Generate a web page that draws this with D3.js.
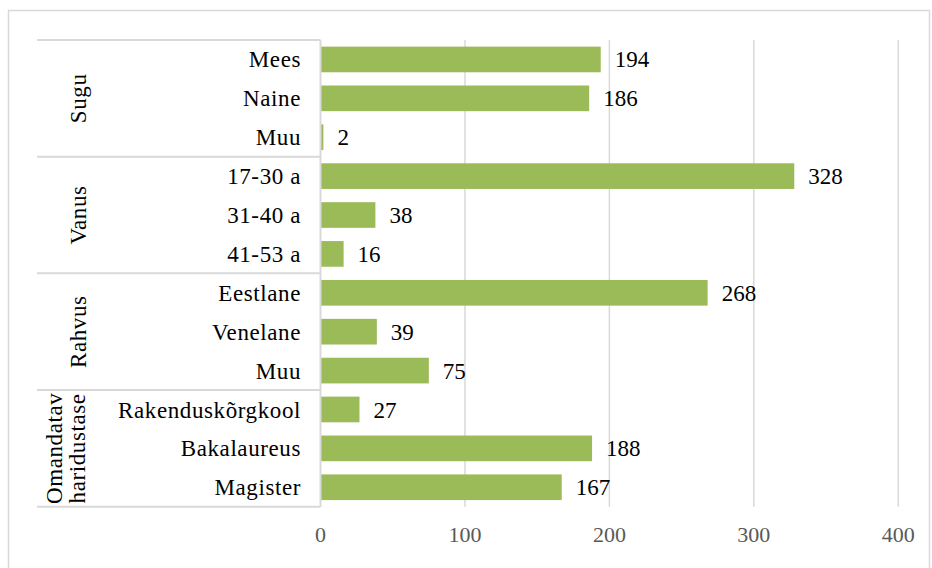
<!DOCTYPE html>
<html>
<head>
<meta charset="utf-8">
<script src="https://cdn.jsdelivr.net/npm/d3@7"></script>
<style>
  body { margin: 0; background: #fff; }
  text { font-family: "Liberation Serif", "Times New Roman", serif; }
</style>
</head>
<body>
<svg class="chart"></svg>
<script>
var width = 932;
var height = 568;

// data
var groups = ["Sugu", "Vanus", "Rahvus", "Omandatav haridustase"];
var groupSize = [3, 3, 3, 3];
var categories = ["Mees", "Naine", "Muu", "17-30 a", "31-40 a", "41-53 a",
    "Eestlane", "Venelane", "Muu", "Rakenduskõrgkool", "Bakalaureus", "Magister"];
var values = [194, 186, 2, 328, 38, 16, 268, 39, 75, 27, 188, 167];
var ticks = [0, 100, 200, 300, 400];

// note: "top" is taken by window.top, so different names here
var plotTop = 40, plotBottom = 506.7;
var boxLeft = 37, plotLeft = 320.5, plotRight = 898.3;

var svg = d3.select(".chart")
    .attr("width", width)
    .attr("height", height);

// outer frame
svg.append("rect")
    .attr("x", 8.5).attr("y", 10.5)
    .attr("width", 921).attr("height", 600)
    .attr("fill", "none")
    .attr("stroke", "#d9d9d9")
    .attr("stroke-width", 1.5);

var x = d3.scaleLinear()
    .domain([0, 400])
    .range([plotLeft, plotRight]);

var y = d3.scaleBand()
    .domain(d3.range(categories.length))
    .range([plotTop, plotBottom])
    .paddingInner(0.34)
    .paddingOuter(0.17);

var gap = (y.step() - y.bandwidth()) / 2;

// grid
svg.append("g").selectAll("line")
    .data(ticks.slice(1))
    .enter().append("line")
    .attr("x1", function(d) { return x(d); })
    .attr("x2", function(d) { return x(d); })
    .attr("y1", plotTop)
    .attr("y2", plotBottom)
    .attr("stroke", "#d9d9d9")
    .attr("stroke-width", 1.5);

// tick labels
svg.append("g").selectAll("text")
    .data(ticks)
    .enter().append("text")
    .attr("x", function(d) { return x(d); })
    .attr("y", 542)
    .attr("text-anchor", "middle")
    .attr("fill", "#595959")
    .style("font-size", "22px")
    .text(function(d) { return d; });

// bars
var bar = svg.append("g").selectAll("g")
    .data(values)
    .enter().append("g");

bar.append("rect")
    .attr("x", x(0))
    .attr("y", function(d, i) { return y(i); })
    .attr("width", function(d) { return x(d) - x(0); })
    .attr("height", y.bandwidth())
    .attr("fill", "#9bbb59");

bar.append("text")
    .attr("x", function(d) { return x(d) + 14; })
    .attr("y", function(d, i) { return y(i) + y.bandwidth() / 2; })
    .attr("dy", ".35em")
    .style("font-size", "23px")
    .text(function(d) { return d; });

// category labels
svg.append("g").selectAll("text")
    .data(categories)
    .enter().append("text")
    .attr("x", 301)
    .attr("y", function(d, i) { return y(i) + y.bandwidth() / 2; })
    .attr("dy", ".35em")
    .attr("text-anchor", "end")
    .style("font-size", "23px")
    .style("letter-spacing", "0.6px")
    .text(function(d) { return d; });

// group box lines
var bounds = [];
var start = 0;
groupSize.forEach(function(n) {
    bounds.push(y(start) - gap);
    start += n;
});
bounds.push(y(start - 1) + y.bandwidth() + gap);

svg.append("g").selectAll("line")
    .data(bounds)
    .enter().append("line")
    .attr("x1", boxLeft)
    .attr("x2", plotLeft)
    .attr("y1", function(d) { return d; })
    .attr("y2", function(d) { return d; })
    .attr("stroke", "#d9d9d9")
    .attr("stroke-width", 2);

svg.append("line")
    .attr("x1", plotLeft).attr("x2", plotLeft)
    .attr("y1", bounds[0]).attr("y2", bounds[bounds.length - 1])
    .attr("stroke", "#d9d9d9")
    .attr("stroke-width", 2);

// group labels (rotated, last one wraps to two lines)
var groupLines = [["Sugu"], ["Vanus"], ["Rahvus"], ["Omandatav", "haridustase"]];

groupLines.forEach(function(lines, g) {
    var cy = (bounds[g] + bounds[g + 1]) / 2;
    var t = svg.append("text")
        .attr("transform", "translate(0," + cy + ") rotate(-90)")
        .attr("text-anchor", "middle")
        .style("font-size", "23px")
        .style("letter-spacing", "0.6px");
    var base = lines.length == 1 ? 86 : 62;
    lines.forEach(function(s, k) {
        t.append("tspan")
            .attr("x", 0)
            .attr("y", base + k * 23)
            .text(s);
    });
});
</script>
</body>
</html>
